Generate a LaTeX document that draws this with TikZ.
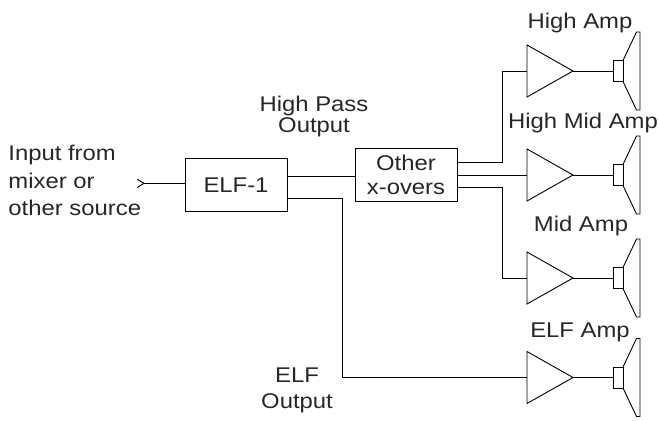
\documentclass[tikz,border=0pt]{standalone}
\usepackage{fontspec}
\setmainfont{Liberation Sans}[FakeStretch=1.12]
\newcommand\mytightlines{\lineskiplimit=-40pt\relax}
\newcommand\mylblfont[1]{\fontsize{21.3}{#1}\selectfont\mytightlines}
\begin{document}
\begin{tikzpicture}[x=1pt,y=-1pt, line width=0.9pt,
  lbl/.style={inner sep=0pt, text=black!85, align=center},
  fnt/.style={font={\mylblfont{#1}}},
  blockbox/.style={draw, minimum width=102pt, minimum height=53pt, inner sep=0pt, align=center, text=black!85},
  amp/.pic={\draw (0,-26) -- (46,0) -- (0,26) -- cycle;
            \coordinate (-in) at (0,0); \coordinate (-out) at (46,0);},
  spk/.pic={\draw (0,-10.5) rectangle (10,10.5);
            \draw (10,-10.5) -- (23.5,-39) -- (27,-39) -- (27,39) -- (23.5,39) -- (10,10.5);
            \coordinate (-in) at (0,0);}
]
\useasboundingbox (0,0) rectangle (658,420);

% blocks
\node[blockbox, fnt=26] (elf) at (236,185) {ELF-1};
\node[blockbox, fnt=24] (other) at (406,174.5) {Other\\x-overs};

% labels
\node[lbl, fnt=27.5, anchor=west, align=left] (inlbl) at (8,180.8) {Input from\\mixer or\\other source};
\node[lbl, fnt=20.5] (hplbl) at (314,116.5) {High Pass\\Output};
\node[lbl, fnt=26] (elflbl) at (297,390.5) {ELF\\Output};
\node[lbl, fnt=26, anchor=base] (halbl) at (580,28.3) {High Amp};
\node[lbl, fnt=26, anchor=base] (hmlbl) at (583,128) {High Mid Amp};
\node[lbl, fnt=26, anchor=base] (malbl) at (581,231) {Mid Amp};
\node[lbl, fnt=26, anchor=base] (ealbl) at (580,337) {ELF Amp};

% amplifiers and speakers
\pic (ha) at (527,71) {amp};
\pic (hm) at (527,175) {amp};
\pic (ma) at (527,278) {amp};
\pic (ea) at (527,377.5) {amp};
\pic (hs) at (613,71) {spk};
\pic (hms) at (613,175) {spk};
\pic (ms) at (613,278) {spk};
\pic (es) at (613,377.5) {spk};

\draw (ha-out) -- (hs-in);
\draw (hm-out) -- (hms-in);
\draw (ma-out) -- (ms-in);
\draw (ea-out) -- (es-in);

% input
\coordinate (in) at (144,183.3);
\draw (137.3,179.3) -- (in) -- (137.3,187.5);
\draw (in) -- (in -| elf.west);

% ELF-1 outputs
\draw (elf.east |- 0,176) -- (other.west |- 0,176);
\draw (elf.east |- 0,198) -- (342,198) |- (ea-in);

% other x-overs outputs
\draw (other.east |- 0,162) -- (502,162) |- (ha-in);
\draw (other.east |- 0,175) -- (hm-in);
\draw (other.east |- 0,187) -- (502,187) |- (ma-in);
\end{tikzpicture}
\end{document}
